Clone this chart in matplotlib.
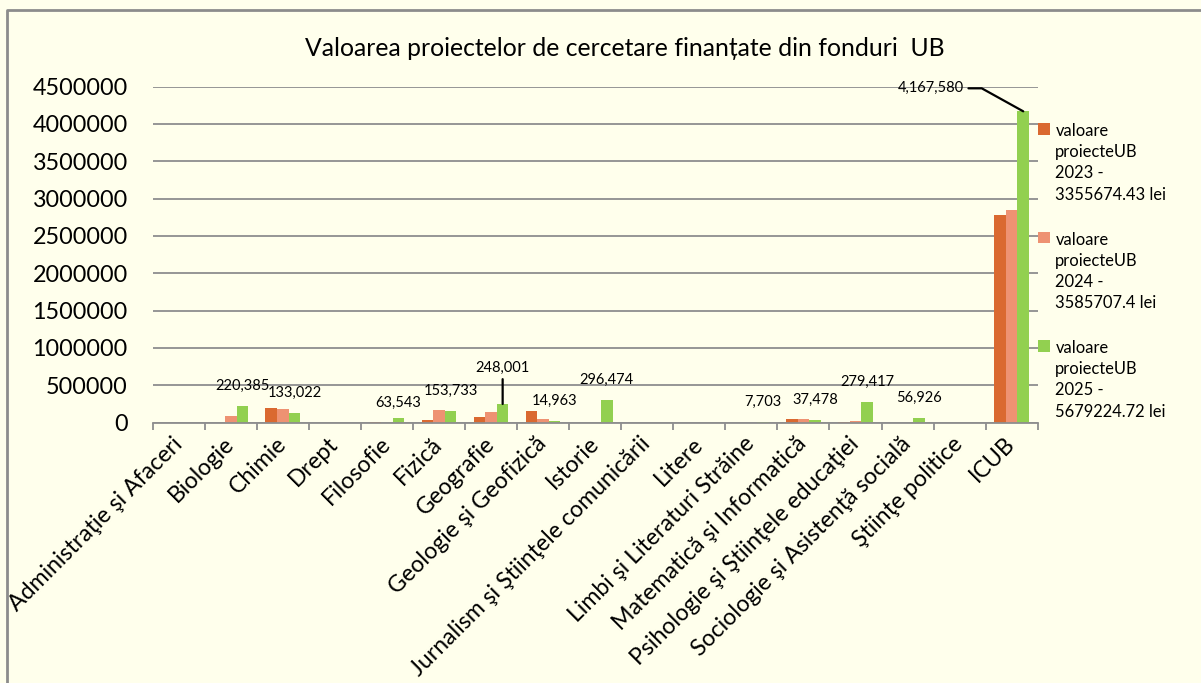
import matplotlib
matplotlib.use("Agg")
import matplotlib.pyplot as plt
import numpy as np
from matplotlib.lines import Line2D

plt.rcParams['font.family'] = ['Lato', 'DejaVu Sans']

categories = [
    "Administraţie şi Afaceri", "Biologie", "Chimie", "Drept", "Filosofie",
    "Fizică", "Geografie", "Geologie şi Geofizică", "Istorie",
    "Jurnalism şi Ştiinţele comunicării", "Litere", "Limbi şi Literaturi Străine",
    "Matematică şi Informatică", "Psihologie şi Ştiinţele educaţiei",
    "Sociologie şi Asistenţă socială", "Ştiinţe politice", "ICUB",
]
v2023 = [0, 0, 191000, 0, 10000, 36000, 71000, 151000, 0, 0, 0, 0, 53000, 12000, 0, 0, 2783000]
v2024 = [0, 84000, 187000, 0, 0, 165000, 147000, 53000, 0, 0, 0, 0, 44000, 18000, 0, 0, 2850000]
v2025 = [0, 220385, 133022, 0, 63543, 153733, 248001, 14963, 296474, 0, 0, 7703,
         37478, 279417, 56926, 0, 4167580]
series_names = [
    "valoare\nproiecteUB\n2023 -\n3355674.43 lei",
    "valoare\nproiecteUB\n2024 -\n3585707.4 lei",
    "valoare\nproiecteUB\n2025 -\n5679224.72 lei",
]
colors = ["#DA6930", "#EE9272", "#92D050"]
title = "Valoarea proiectelor de cercetare finanțate din fonduri  UB"
yticks = [0, 500000, 1000000, 1500000, 2000000, 2500000, 3000000, 3500000, 4000000, 4500000]

W, H = 1201, 683
bg = "#FFFFEC"
fig = plt.figure(figsize=(W / 100, H / 100), dpi=100, facecolor=bg)
renderer = fig.canvas.get_renderer()


def fit_size(s, target_px, base=20.0):
    t = fig.text(0, 0, s, fontsize=base)
    w = t.get_window_extent(renderer).width
    t.remove()
    return base * target_px / w


fs_ytick = fit_size("4500000", 95)
fs_title = fit_size(title, 640)
fs_xlab = fit_size(categories[0], 236)
fs_leg = fit_size("3355674.43 lei", 111)
fs_data = fit_size("220,385", 54)

ax = fig.add_axes([152.7 / W, 1 - 422.5 / H, (1037.7 - 152.7) / W, (422.5 - 86.5) / H])
ax.set_facecolor(bg)

x = np.arange(len(categories))
bw = 1 / 4.5
for i, (vals, c, nm) in enumerate(zip([v2023, v2024, v2025], colors, series_names)):
    ax.bar(x + (i - 1) * bw, vals, bw, color=c, label=nm, zorder=3)

ax.set_xlim(-0.5, len(categories) - 0.5)
ax.set_ylim(0, 4500000)
ax.set_yticks(yticks)
ax.set_yticklabels([str(t) for t in yticks])
ax.yaxis.grid(True, color="#8E8E8E", linewidth=1.3, zorder=0)
ax.set_axisbelow(True)
for s in ["top", "right", "left"]:
    ax.spines[s].set_visible(False)
ax.spines["bottom"].set_color("#8E8E8E")
ax.spines["bottom"].set_linewidth(1.3)
ax.spines["bottom"].set_zorder(4)
ax.tick_params(axis="y", length=0, pad=18, labelsize=fs_ytick)
ax.set_xticks(x)
ax.set_xticks(np.arange(-0.5, len(categories)), minor=True)
ax.tick_params(axis="x", which="major", length=0, pad=13)
ax.tick_params(axis="x", which="minor", length=5, width=1.3, color="#8E8E8E")
ax.set_xticklabels(categories, rotation=45, ha="right", rotation_mode="anchor",
                   va="center", fontsize=fs_xlab)

# data labels for 2025 series
offsets = {i: (0, 20) for i, v in enumerate(v2025) if v > 0}
offsets[4] = (0, 15)
for i, v in enumerate(v2025):
    if v <= 0:
        continue
    xi = x[i] + bw
    if i == 6:
        ax.annotate(f"{v:,}", xy=(xi, v), xytext=(0, 36), textcoords="offset pixels",
                    ha="center", va="center", fontsize=fs_data,
                    arrowprops=dict(arrowstyle="-", color="black", lw=1.6,
                                    shrinkA=1, shrinkB=0, relpos=(0.5, 0)))
    elif i == 16:
        ax.annotate(f"{v:,}", xy=(xi, v), xytext=(-92, 23), textcoords="offset pixels",
                    ha="center", va="center", fontsize=fs_data,
                    arrowprops=dict(arrowstyle="-", color="black", lw=1.6,
                                    shrinkA=1, shrinkB=0, relpos=(1, 0.5),
                                    connectionstyle="angle,angleA=0,angleB=151,rad=0"))
    else:
        dx, dy = offsets[i]
        ax.annotate(f"{v:,}", xy=(xi, v), xytext=(dx, dy), textcoords="offset pixels",
                    ha="center", va="center", fontsize=fs_data)

fig.text(625 / W, 1 - 48 / H, title, ha="center", va="center", fontsize=fs_title)

leg = ax.legend(loc="upper left", bbox_to_anchor=(1038 / W, 1 - 123 / H),
                bbox_transform=fig.transFigure, frameon=False, fontsize=fs_leg,
                handlelength=0.7, handleheight=0.7, handletextpad=0.35,
                labelspacing=1.75, borderpad=0, borderaxespad=0)
for t in leg.get_texts():
    t.set_linespacing(1.4)
for col in leg._legend_handle_box.get_children():
    for row in col.get_children():
        row.align = "top"

# chart border
fig.add_artist(Line2D([7 / W, 7 / W, 1.0], [0.0, 1 - 10 / H, 1 - 10 / H],
                      transform=fig.transFigure, color="#8C8C8C", linewidth=2))

fig.savefig("out.png", dpi=100, facecolor=bg)
